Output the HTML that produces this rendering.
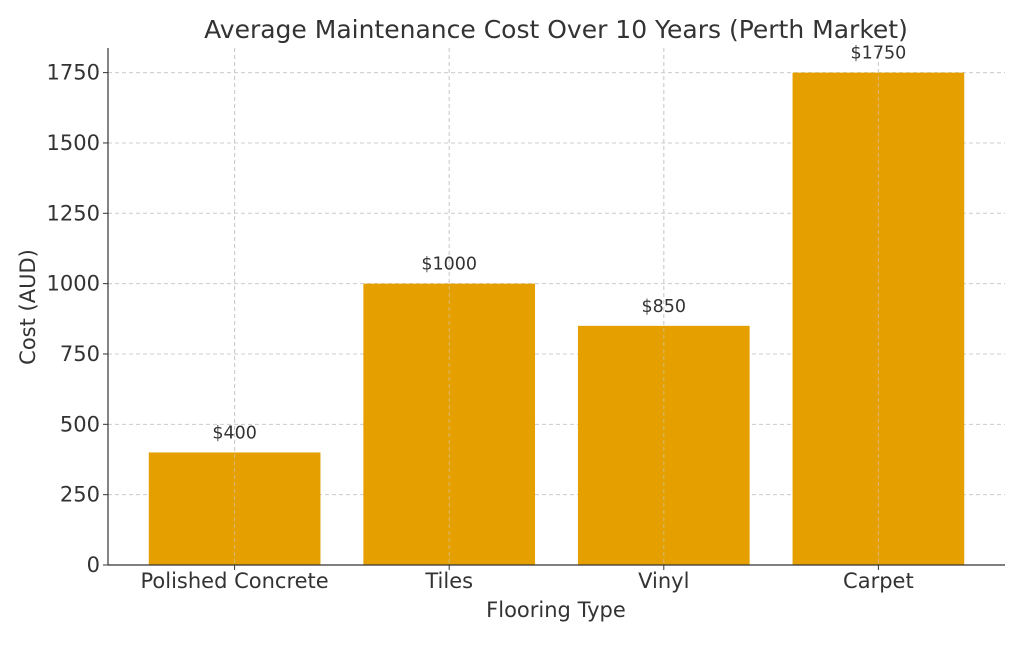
<!DOCTYPE html>
<html><head><meta charset="utf-8"><style>
body{margin:0;background:#fff;}
svg text{font-family:"DejaVu Sans","Liberation Sans",sans-serif;fill:#333;}
</style></head><body>
<svg id="chart" width="1024" height="640" xmlns="http://www.w3.org/2000/svg">
<text x="556" y="38" font-size="25" text-anchor="middle">Average Maintenance Cost Over 10 Years (Perth Market)</text>
<g id="grid"></g><g id="bars"></g><g id="axes"></g>
<text x="556" y="617" font-size="21" text-anchor="middle">Flooring Type</text>
<text transform="translate(35,307) rotate(-90)" font-size="21" text-anchor="middle">Cost (AUD)</text>
</svg>
<script>
const categories=["Polished Concrete","Tiles","Vinyl","Carpet"];
const values=[400,1000,850,1750];
const yTicks=[0,250,500,750,1000,1250,1500,1750];
const NS="http://www.w3.org/2000/svg";
const L=108,R=1005,T=48,B=565;
const yMax=1837.5;
const y=v=>B-(v/yMax)*(B-T);
const xMin=-0.59,xMax=3.59;
const x=i=>L+(i-xMin)/(xMax-xMin)*(R-L);
const bw=0.8*(R-L)/(xMax-xMin);
function mk(tag,attrs,parent,text){const e=document.createElementNS(NS,tag);for(const k in attrs)e.setAttribute(k,attrs[k]);if(text!=null)e.textContent=text;parent.appendChild(e);return e;}
const grid=document.getElementById('grid'),bars=document.getElementById('bars'),axes=document.getElementById('axes');
yTicks.forEach(t=>{
 const g=mk('line',{x1:L,x2:R,y1:y(t),y2:y(t),stroke:'#ccc','stroke-dasharray':'4,3','stroke-width':1},grid);
 
 
 const tk=mk('line',{x1:L-5,x2:L,y1:y(t),y2:y(t),stroke:'#333'},axes);
 
 
 const lb=mk('text',{x:L-8,y:y(t)+7,'font-size':21,'text-anchor':'end'},axes,String(t));
 
 
});
categories.forEach((c,i)=>{
 const gl=mk('line',{x1:x(i),x2:x(i),y1:T,y2:B,stroke:'#ccc','stroke-dasharray':'4,3'},grid);
 
 
 const r=mk('rect',{x:x(i)-bw/2,y:y(values[i]),width:bw,height:B-y(values[i]),fill:'#E5A000'},bars);
 
 
 const gl2=mk('line',{x1:x(i),x2:x(i),y1:T,y2:B,stroke:'#ccc','stroke-opacity':0.6,'stroke-dasharray':'4,3'},bars);
 
 
 const v=mk('text',{x:x(i),y:y(values[i])-14,'font-size':17.5,'text-anchor':'middle'},bars,'$'+values[i]);
 
 
 const tk=mk('line',{x1:x(i),x2:x(i),y1:B,y2:B+5,stroke:'#333'},axes);
 
 
 const lb=mk('text',{x:x(i),y:B+23,'font-size':21,'text-anchor':'middle'},axes,c);
 
 
});
const ax=mk('line',{x1:L,x2:L,y1:T,y2:B,stroke:'#333','stroke-width':1.2},axes);


const bx=mk('line',{x1:L,x2:R,y1:B,y2:B,stroke:'#333','stroke-width':1.2},axes);


</script>
</body></html>
